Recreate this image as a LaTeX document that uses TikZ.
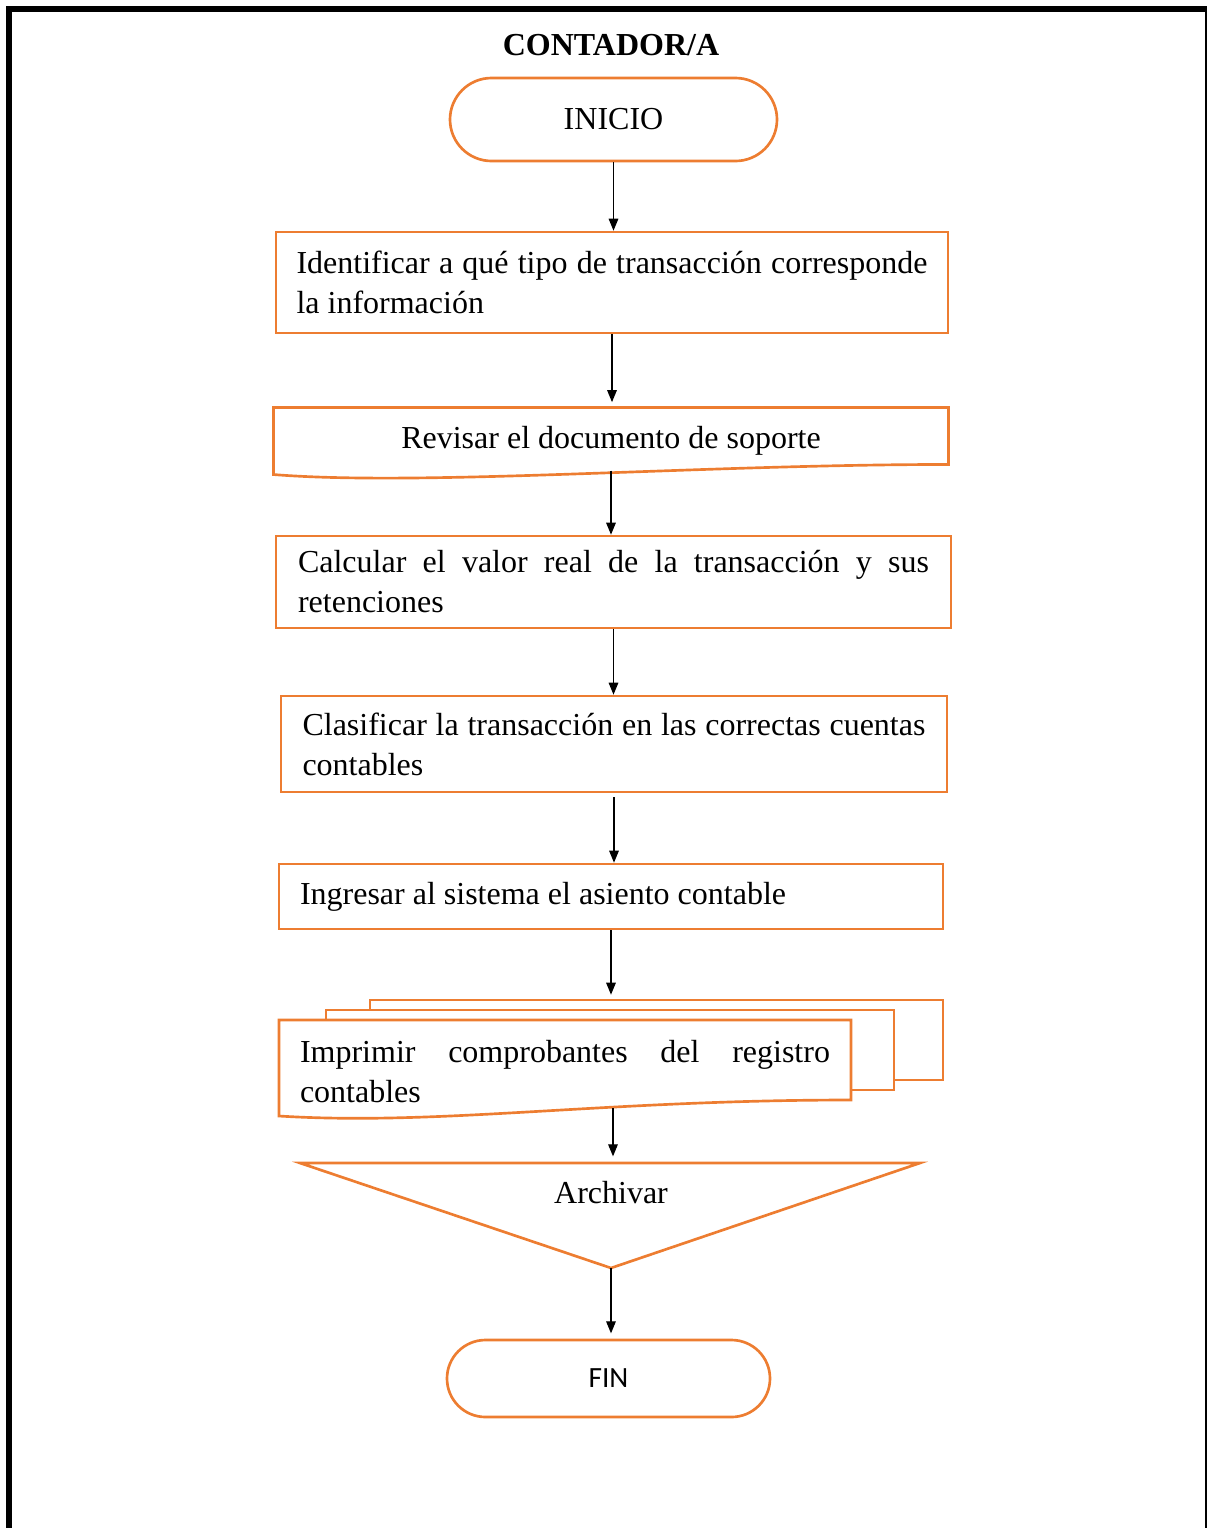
\documentclass[tikz,border=0pt]{standalone}
\usepackage{fontspec}
\setmainfont{Liberation Serif}
\newfontfamily\sansfin{Carlito}
\usetikzlibrary{arrows.meta,shapes.misc}

\definecolor{naranja}{RGB}{237,125,49}

% espacios normales entre palabras dentro de los nodos alineados
\newcommand{\espnormal}{\spaceskip=0pt\xspaceskip=0pt\relax}

\tikzset{
  borde/.style={draw=naranja, line width=1pt},
  proceso/.style 2 args={borde, rectangle, inner sep=0pt,
    minimum width=#1*0.375pt, minimum height=#2*0.375pt},
  terminal/.style 2 args={borde, rounded rectangle, inner sep=0pt,
    minimum width=#1*0.375pt, minimum height=#2*0.375pt},
  flecha/.style={-{Triangle[length=4.5pt,width=3.6pt]}, line width=0.45pt},
}

\begin{document}
\begin{tikzpicture}[x=0.375pt, y=-0.375pt, font=\fontsize{12}{15}\selectfont]
    \useasboundingbox (0,0) rectangle (1207,1528);

    % Marco
    \draw[line width=2.25pt] (9,1528) -- (9,9) -- (1206.5,9);
    \draw[line width=0.75pt] (1205.5,9) -- (1205.5,1528);

    \node[font=\fontsize{12}{15}\selectfont\bfseries] (titulo) at (611,45) {CONTADOR/A};

    % Inicio y pasos
    \node[terminal={327}{83}] (inicio) at (613.5,119.5) {INICIO};

    \node[proceso={672}{101}, text width=236.6pt, align=left] (b1) at (612,282.5)
      {\espnormal\makebox[\hsize][s]{Identificar a qué tipo de transacción corresponde}\\la información};

    % Documento: revisar
    \node[inner sep=0pt, minimum width=674*0.375pt, minimum height=66*0.375pt] (rev) at (611,441)
      {Revisar el documento de soporte};
    \draw[borde] (rev.north west) -- (rev.north east) -- ++(0,57)
      .. controls +(-250,0) and +(150,12) .. (rev.south west) -- cycle;

    \node[proceso={675}{92}, text width=236.6pt, align=left] (b3) at (613.5,582)
      {\espnormal\makebox[\hsize][s]{Calcular el valor real de la transacción y sus}\\retenciones};

    \node[proceso={666}{96}, text width=233.6pt, align=left] (b4) at (614,744)
      {\espnormal\makebox[\hsize][s]{Clasificar la transacción en las correctas cuentas}\\contables};

    \node[proceso={664}{65}, text width=233.25pt, align=left] (b5) at (611,896.5)
      {\espnormal Ingresar al sistema el asiento contable};

    % Documentos multiples
    \node[proceso={573}{80}, fill=white] (atras) at (656.5,1040) {};
    \node[proceso={568}{80}, fill=white] (medio) at (610,1050) {};
    \draw[borde, fill=white] (279,1020) -- (851,1020) -- (851,1100)
      .. controls (600,1100) and (440,1126) .. (279,1116) -- cycle;
    \node[text width=198.75pt, align=left] (imp) at (565,1072)
      {\espnormal\makebox[\hsize][s]{Imprimir comprobantes del registro}\\contables};
    \coordinate (imp-sal) at (613,1108);

    % Archivar
    \coordinate (arch-i) at (300,1163);
    \coordinate (arch-d) at (920,1163);
    \coordinate (arch-v) at (611,1268);
    \draw[borde] (arch-i) -- (arch-d) -- (arch-v) -- cycle;
    \node (arch) at (611,1193) {Archivar};

    \node[terminal={323}{77}, font=\sansfin\fontsize{11}{13}\selectfont] (fin) at (608.5,1378.5) {FIN};

    % Flechas
    \draw[flecha] (inicio.south) -- (inicio.south |- b1.north);
    \draw[flecha] (b1.south) -- ([yshift=2pt]b1.south |- rev.north);
    \draw[flecha] ([yshift=1.5pt]rev.south) -- (rev.south |- b3.north);
    \draw[flecha] (b3.south) -- (b3.south |- b4.north);
    \draw[flecha] ([yshift=-1.5pt]b4.south) -- (b4.south |- b5.north);
    \draw[flecha] (b5.south) -- ([yshift=1.5pt]b5.south |- atras.north);
    \draw[flecha] (imp-sal) -- ([yshift=2.5pt]imp-sal |- arch-i);
    \draw[flecha] (arch-v) -- ([yshift=2pt]arch-v |- fin.north);

\end{tikzpicture}
\end{document}
